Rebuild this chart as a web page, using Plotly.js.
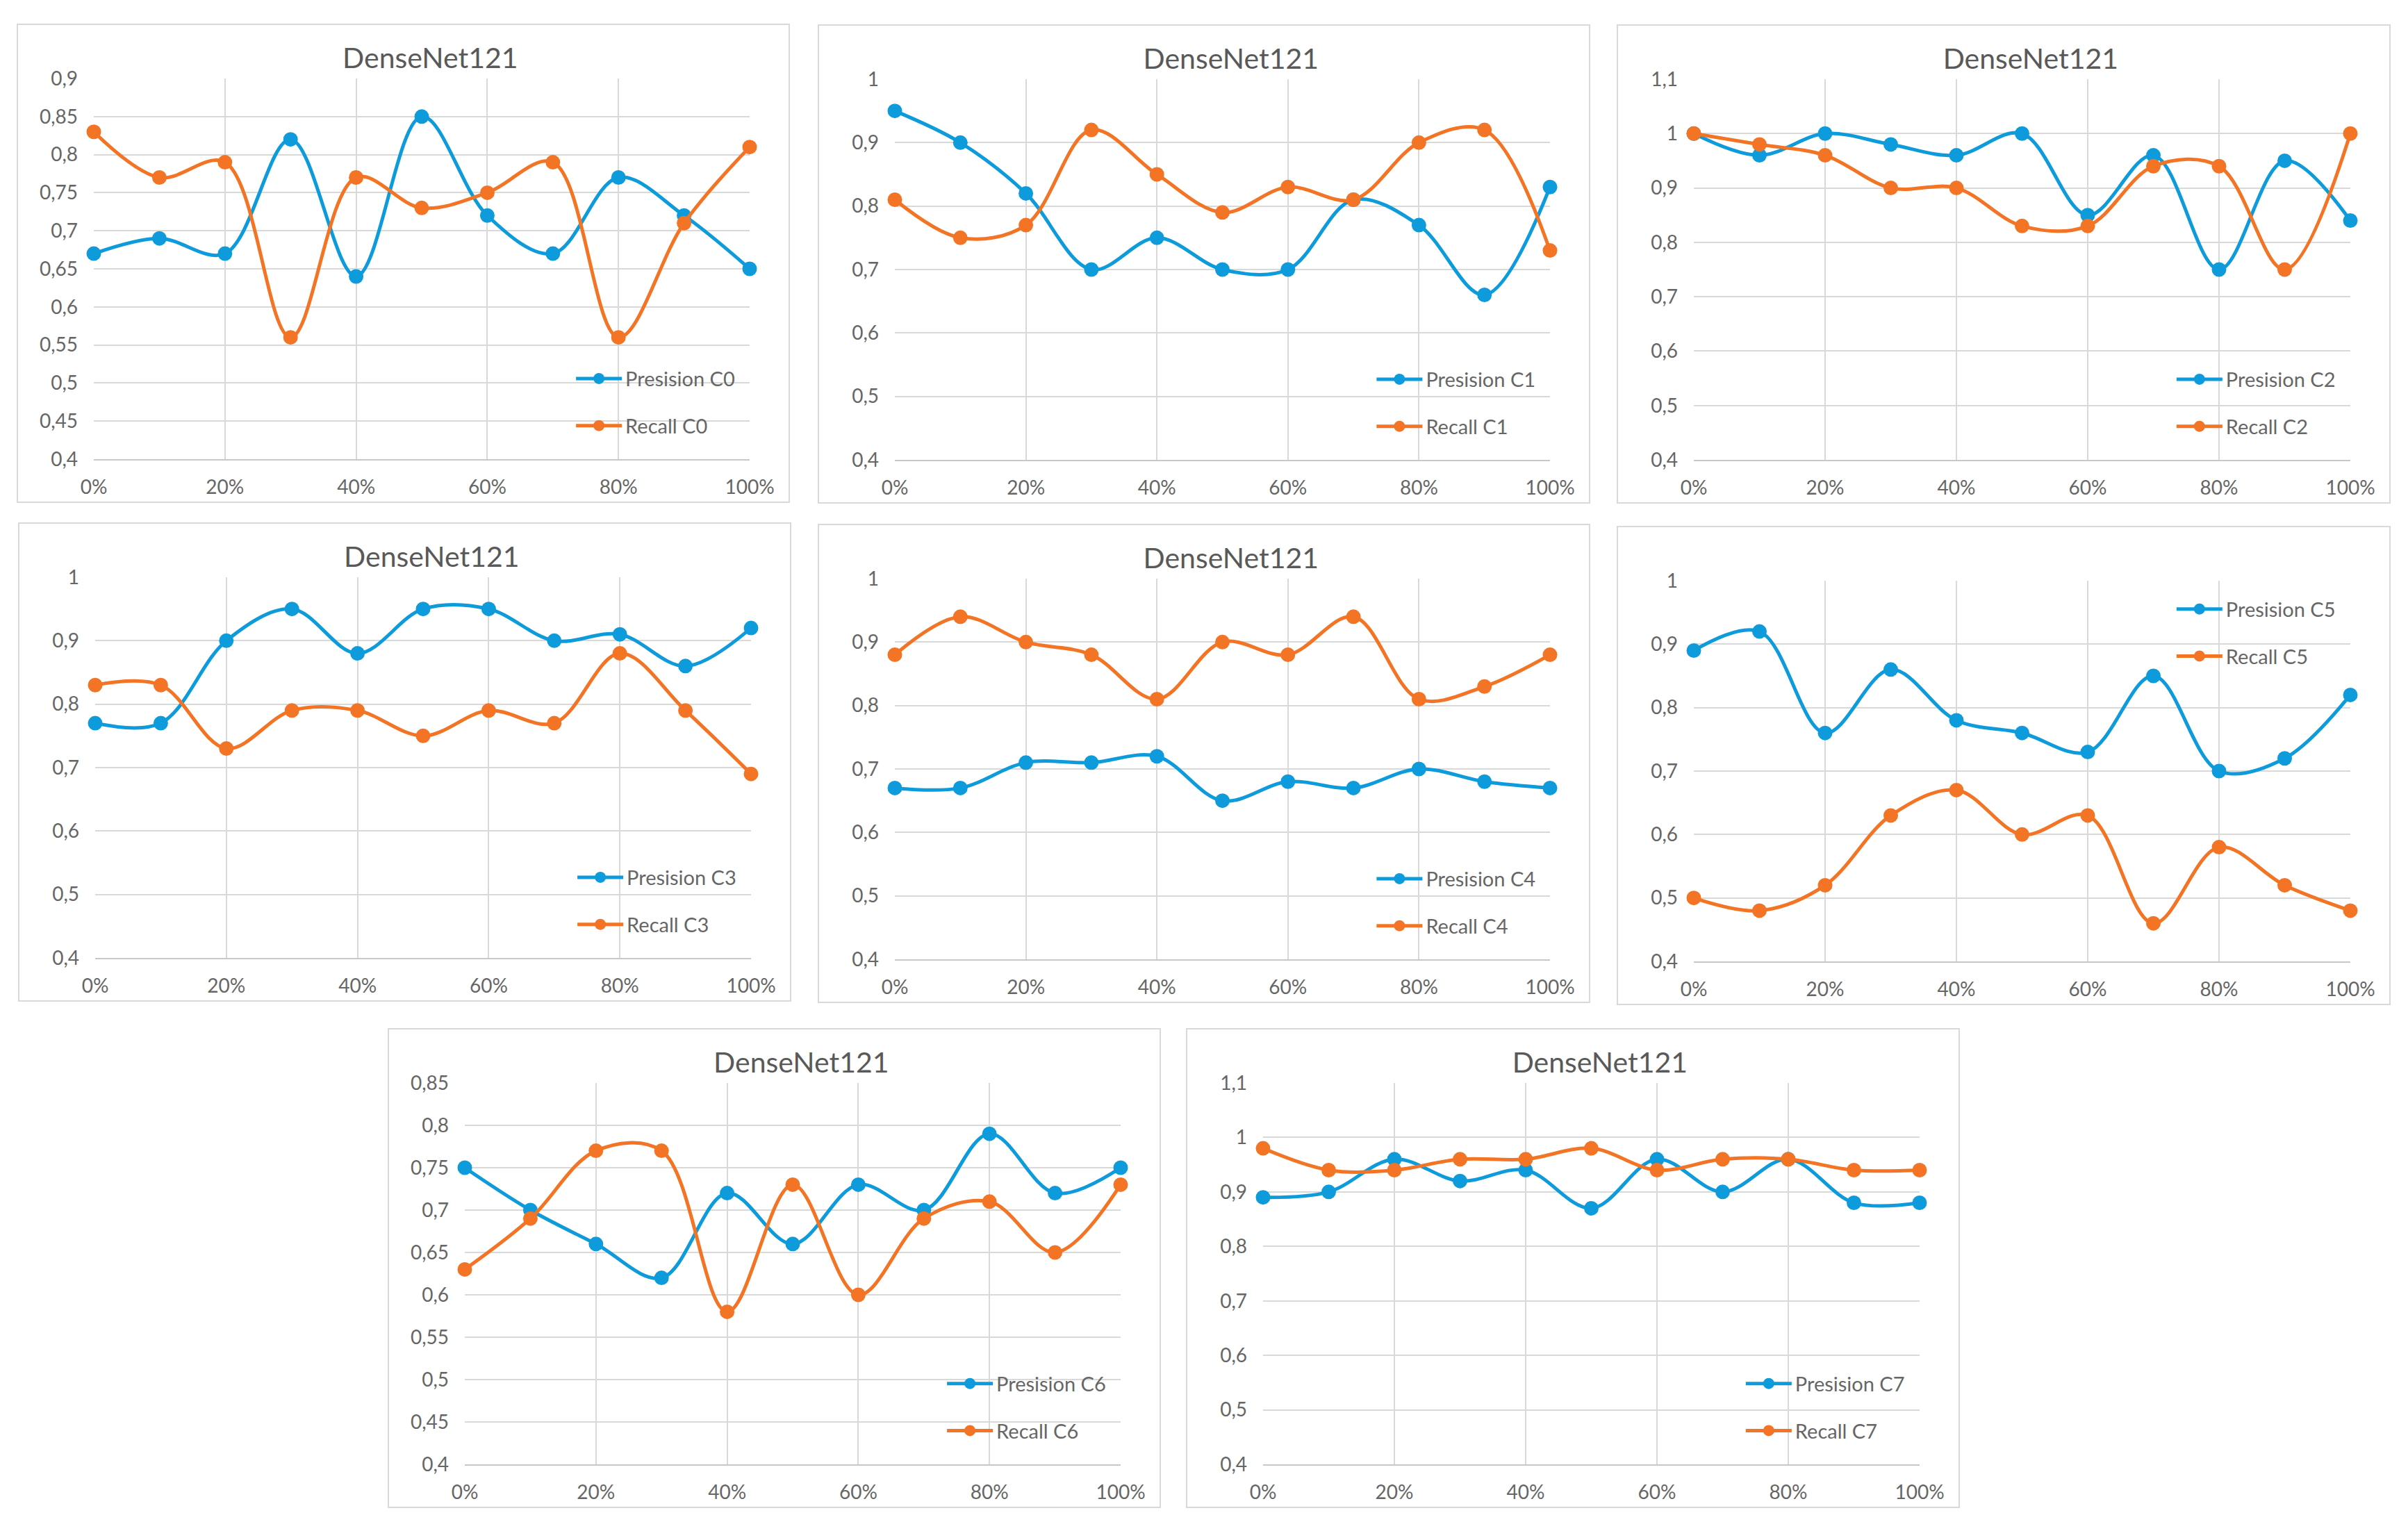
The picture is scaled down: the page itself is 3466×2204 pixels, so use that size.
<!DOCTYPE html>
<html>
<head>
<meta charset="utf-8">
<script src="https://cdn.plot.ly/plotly-3.0.1.min.js"></script>
<style>
html,body{margin:0;padding:0;background:#fff;width:3466px;height:2204px;overflow:hidden}
.panel{position:absolute;box-sizing:border-box;border:2px solid #d9d9d9;background:#fff}
</style>
</head>
<body>
<div id="c0" class="panel"></div>
<div id="c1" class="panel"></div>
<div id="c2" class="panel"></div>
<div id="c3" class="panel"></div>
<div id="c4" class="panel"></div>
<div id="c5" class="panel"></div>
<div id="c6" class="panel"></div>
<div id="c7" class="panel"></div>
<script>
// ---------- data ----------
const levels = [0, 10, 20, 30, 40, 50, 60, 70, 80, 90, 100];
const xTickVals = [0, 20, 40, 60, 80, 100];
const xTickText = ['0%', '20%', '40%', '60%', '80%', '100%'];
const chartTitle = 'DenseNet121';
const classNames = ['C0', 'C1', 'C2', 'C3', 'C4', 'C5', 'C6', 'C7'];
const precisionLabel = 'Presision';
const recallLabel = 'Recall';

const precisionC0 = [0.67, 0.69, 0.67, 0.82, 0.64, 0.85, 0.72, 0.67, 0.77, 0.72, 0.65];
const recallC0    = [0.83, 0.77, 0.79, 0.56, 0.77, 0.73, 0.75, 0.79, 0.56, 0.71, 0.81];
const precisionC1 = [0.95, 0.90, 0.82, 0.70, 0.75, 0.70, 0.70, 0.81, 0.77, 0.66, 0.83];
const recallC1    = [0.81, 0.75, 0.77, 0.92, 0.85, 0.79, 0.83, 0.81, 0.90, 0.92, 0.73];
const precisionC2 = [1.00, 0.96, 1.00, 0.98, 0.96, 1.00, 0.85, 0.96, 0.75, 0.95, 0.84];
const recallC2    = [1.00, 0.98, 0.96, 0.90, 0.90, 0.83, 0.83, 0.94, 0.94, 0.75, 1.00];
const precisionC3 = [0.77, 0.77, 0.90, 0.95, 0.88, 0.95, 0.95, 0.90, 0.91, 0.86, 0.92];
const recallC3    = [0.83, 0.83, 0.73, 0.79, 0.79, 0.75, 0.79, 0.77, 0.88, 0.79, 0.69];
const precisionC4 = [0.67, 0.67, 0.71, 0.71, 0.72, 0.65, 0.68, 0.67, 0.70, 0.68, 0.67];
const recallC4    = [0.88, 0.94, 0.90, 0.88, 0.81, 0.90, 0.88, 0.94, 0.81, 0.83, 0.88];
const precisionC5 = [0.89, 0.92, 0.76, 0.86, 0.78, 0.76, 0.73, 0.85, 0.70, 0.72, 0.82];
const recallC5    = [0.50, 0.48, 0.52, 0.63, 0.67, 0.60, 0.63, 0.46, 0.58, 0.52, 0.48];
const precisionC6 = [0.75, 0.70, 0.66, 0.62, 0.72, 0.66, 0.73, 0.70, 0.79, 0.72, 0.75];
const recallC6    = [0.63, 0.69, 0.77, 0.77, 0.58, 0.73, 0.60, 0.69, 0.71, 0.65, 0.73];
const precisionC7 = [0.89, 0.90, 0.96, 0.92, 0.94, 0.87, 0.96, 0.90, 0.96, 0.88, 0.88];
const recallC7    = [0.98, 0.94, 0.94, 0.96, 0.96, 0.98, 0.94, 0.96, 0.96, 0.94, 0.94];

const yTicksFine090 = [0.4, 0.45, 0.5, 0.55, 0.6, 0.65, 0.7, 0.75, 0.8, 0.85, 0.9];
const yLabelsFine090 = ['0,4', '0,45', '0,5', '0,55', '0,6', '0,65', '0,7', '0,75', '0,8', '0,85', '0,9'];
const yTicksFine085 = [0.4, 0.45, 0.5, 0.55, 0.6, 0.65, 0.7, 0.75, 0.8, 0.85];
const yLabelsFine085 = ['0,4', '0,45', '0,5', '0,55', '0,6', '0,65', '0,7', '0,75', '0,8', '0,85'];
const yTicks100 = [0.4, 0.5, 0.6, 0.7, 0.8, 0.9, 1.0];
const yLabels100 = ['0,4', '0,5', '0,6', '0,7', '0,8', '0,9', '1'];
const yTicks110 = [0.4, 0.5, 0.6, 0.7, 0.8, 0.9, 1.0, 1.1];
const yLabels110 = ['0,4', '0,5', '0,6', '0,7', '0,8', '0,9', '1', '1,1'];

// ---------- layout / style ----------
const BLUE = '#0e9bdb';
const ORANGE = '#f37424';
const TEXT = '#666666';
const TITLE = '#595959';
const GRID = '#d9d9d9';
const FONT = 'Lato, "Open Sans", sans-serif';

const panels = [
  {id: 'c0', p: precisionC0, r: recallC0, tv: yTicksFine090, tt: yLabelsFine090, left: 24,   top: 34,   w: 1113, h: 690, title: true,  legTop: false},
  {id: 'c1', p: precisionC1, r: recallC1, tv: yTicks100,     tt: yLabels100,     left: 1177, top: 35,   w: 1112, h: 690, title: true,  legTop: false},
  {id: 'c2', p: precisionC2, r: recallC2, tv: yTicks110,     tt: yLabels110,     left: 2327, top: 35,   w: 1114, h: 690, title: true,  legTop: false},
  {id: 'c3', p: precisionC3, r: recallC3, tv: yTicks100,     tt: yLabels100,     left: 26,   top: 752,  w: 1113, h: 690, title: true,  legTop: false},
  {id: 'c4', p: precisionC4, r: recallC4, tv: yTicks100,     tt: yLabels100,     left: 1177, top: 754,  w: 1112, h: 690, title: true,  legTop: false},
  {id: 'c5', p: precisionC5, r: recallC5, tv: yTicks100,     tt: yLabels100,     left: 2327, top: 757,  w: 1114, h: 690, title: false, legTop: true},
  {id: 'c6', p: precisionC6, r: recallC6, tv: yTicksFine085, tt: yLabelsFine085, left: 558,  top: 1480, w: 1113, h: 691, title: true,  legTop: false},
  {id: 'c7', p: precisionC7, r: recallC7, tv: yTicks110,     tt: yLabels110,     left: 1707, top: 1480, w: 1114, h: 691, title: true,  legTop: false}
];

panels.forEach((pn, i) => {
  const el = document.getElementById(pn.id);
  el.style.left = pn.left + 'px';
  el.style.top = pn.top + 'px';
  el.style.width = pn.w + 'px';
  el.style.height = pn.h + 'px';

  const mk = (y, name, color, grp) => ({
    type: 'scatter', mode: 'lines+markers', x: levels, y: y, name: name,
    legendgroup: grp, cliponaxis: false,
    line: {color: color, width: 5, shape: 'spline', smoothing: 1},
    marker: {color: color, size: 21, symbol: 'circle'}
  });
  const traces = [
    mk(pn.p, precisionLabel + ' ' + classNames[i], BLUE, 'p'),
    mk(pn.r, recallLabel + ' ' + classNames[i], ORANGE, 'r')
  ];
  const layout = {
    width: pn.w - 4, height: pn.h - 4,
    margin: {l: 109, r: 56, t: 77, b: 61, pad: 0},
    paper_bgcolor: '#ffffff', plot_bgcolor: '#ffffff',
    font: {family: FONT, color: TEXT, size: 28},
    showlegend: true,
    title: pn.title ? {text: chartTitle, font: {family: FONT, size: 41, color: TITLE},
      x: 0.535, xref: 'container', xanchor: 'center', y: 0.93, yref: 'container', yanchor: 'middle'} : {text: ''},
    xaxis: {
      range: [0, 100], tickvals: xTickVals, ticktext: xTickText,
      showgrid: true, gridcolor: GRID, gridwidth: 2,
      showline: true, linecolor: '#c8c8c8', linewidth: 2,
      zeroline: false, ticks: '', ticklabelstandoff: 14,
      tickfont: {family: FONT, size: 28, color: TEXT}, fixedrange: true
    },
    yaxis: {
      range: [pn.tv[0], pn.tv[pn.tv.length - 1]], tickvals: pn.tv, ticktext: pn.tt,
      showgrid: true, gridcolor: GRID, gridwidth: 2,
      showline: false, zeroline: false, ticks: '', ticklabelstandoff: 22,
      tickfont: {family: FONT, size: 28, color: TEXT}, fixedrange: true
    },
    legend: {
      x: 0.73, xanchor: 'left',
      y: pn.legTop ? 0.972 : 0.258, yanchor: 'top',
      bgcolor: 'rgba(0,0,0,0)', borderwidth: 0,
      itemwidth: 66, tracegroupgap: 27,
      font: {family: FONT, size: 29, color: TEXT}
    }
  };
  Plotly.newPlot(el, traces, layout, {staticPlot: true, displayModeBar: false});
});
</script>
</body>
</html>
